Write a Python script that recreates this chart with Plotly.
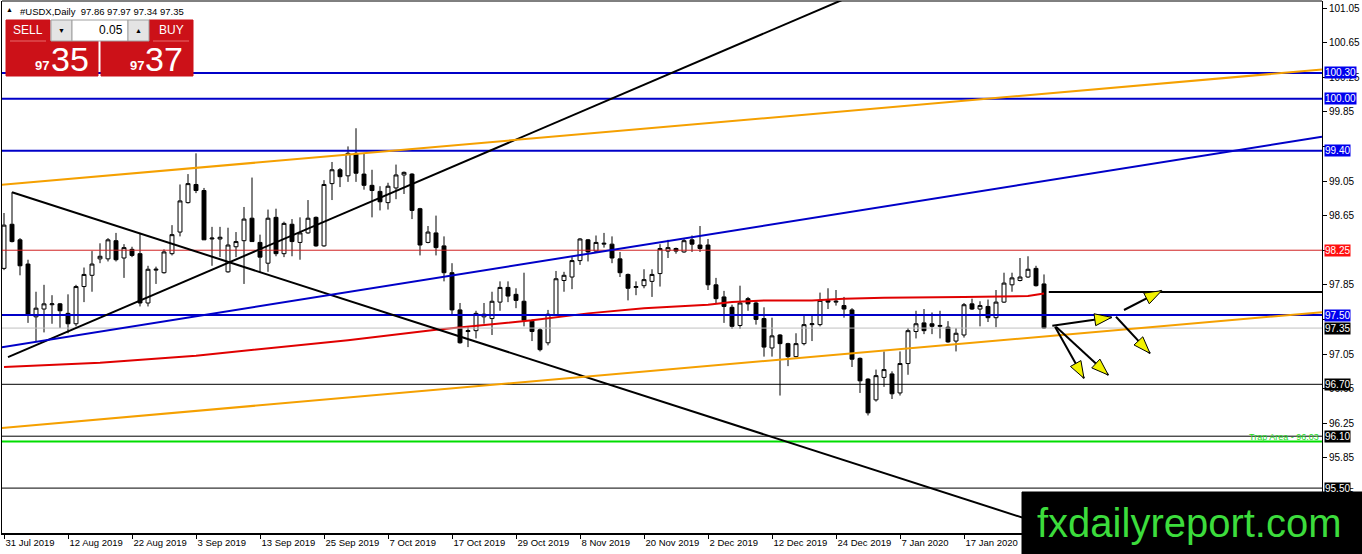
import plotly.graph_objects as go

# #USDX daily bars, 31 Jul 2019 .. 31 Jan 2020 (x axis = bar number)
opens = [98.04, 98.55, 98.37, 98.09, 97.48, 97.57, 97.62, 97.63, 97.52, 97.40,
         97.83, 97.96, 98.15, 98.15, 98.36, 98.16, 98.26, 98.21, 97.64, 98.02,
         97.99, 98.21, 98.46, 98.80, 99.01, 98.94, 98.38, 98.38, 98.00, 98.29,
         98.36, 98.62, 98.34, 98.10, 98.63, 98.21, 98.55, 98.34, 98.45, 98.63,
         98.30, 99.02, 99.18, 99.11, 99.37, 99.13, 99.00, 98.93, 98.80, 98.97,
         99.12, 99.13, 98.73, 98.34, 98.45, 98.30, 97.99, 97.56, 97.31, 97.32,
         97.48, 97.46, 97.65, 97.82, 97.74, 97.66, 97.43, 97.33, 97.18, 97.50,
         97.90, 97.94, 98.13, 98.37, 98.24, 98.32, 98.32, 98.15, 97.97, 97.82,
         97.84, 97.89, 97.98, 98.24, 98.27, 98.23, 98.37, 98.31, 98.31, 97.85,
         97.71, 97.59, 97.38, 97.69, 97.64, 97.46, 97.12, 97.27, 97.17, 97.02,
         97.17, 97.39, 97.39, 97.67, 97.65, 97.61, 97.56, 97.00, 96.76, 96.52,
         96.78, 96.82, 96.60, 96.94, 97.31, 97.41, 97.40, 97.37, 97.36, 97.20,
         97.27, 97.63, 97.57, 97.60, 97.47, 97.65, 97.85, 97.90, 97.94, 98.04,
         97.86]
highs = [98.68, 98.92, 98.39, 98.14, 97.77, 97.85, 97.73, 97.64, 97.74, 97.85,
         98.05, 98.24, 98.33, 98.39, 98.45, 98.32, 98.29, 98.45, 98.07, 98.06,
         98.26, 98.54, 99.01, 99.13, 99.37, 98.97, 98.52, 98.52, 98.51, 98.46,
         98.75, 99.09, 98.43, 98.72, 98.73, 98.58, 98.61, 98.63, 98.83, 98.64,
         99.06, 99.27, 99.20, 99.45, 99.66, 99.37, 99.18, 98.99, 99.03, 99.24,
         99.16, 99.14, 98.74, 98.53, 98.65, 98.41, 98.10, 97.64, 97.37, 97.55,
         97.64, 97.77, 97.89, 97.89, 97.81, 97.99, 97.45, 97.35, 97.56, 98.01,
         98.00, 98.17, 98.39, 98.38, 98.42, 98.45, 98.41, 98.23, 97.98, 97.89,
         98.03, 98.03, 98.32, 98.37, 98.28, 98.39, 98.42, 98.53, 98.38, 97.93,
         97.78, 97.62, 97.84, 97.71, 97.66, 97.59, 97.47, 97.28, 97.18, 97.29,
         97.49, 97.49, 97.76, 97.81, 97.79, 97.71, 97.58, 97.01, 96.77, 96.87,
         97.08, 96.85, 97.08, 97.35, 97.55, 97.57, 97.53, 97.55, 97.43, 97.35,
         97.64, 97.69, 97.66, 97.68, 97.79, 97.99, 97.99, 98.16, 98.18, 98.07,
         97.97]
lows = [98.02, 98.34, 97.96, 97.41, 97.19, 97.30, 97.40, 97.35, 97.29, 97.37,
        97.65, 97.77, 98.10, 98.12, 98.12, 97.93, 98.17, 97.60, 97.60, 97.86,
        97.98, 98.19, 98.41, 98.79, 98.91, 98.37, 98.07, 98.17, 97.99, 98.17,
        97.86, 98.35, 97.99, 98.00, 98.18, 98.17, 98.18, 98.14, 98.44, 98.29,
        98.29, 98.83, 98.98, 99.04, 99.04, 98.95, 98.63, 98.71, 98.72, 98.84,
        98.90, 98.61, 98.19, 98.33, 98.19, 97.89, 97.50, 97.17, 97.13, 97.23,
        97.40, 97.27, 97.55, 97.65, 97.58, 97.37, 97.20, 97.08, 97.15, 97.49,
        97.77, 97.80, 98.08, 98.12, 98.23, 98.28, 98.10, 97.94, 97.67, 97.73,
        97.81, 97.71, 97.83, 98.16, 98.21, 98.22, 98.23, 98.23, 97.79, 97.64,
        97.41, 97.34, 97.34, 97.55, 97.39, 97.02, 97.02, 96.57, 96.91, 97.01,
        97.15, 97.20, 97.37, 97.57, 97.61, 97.47, 96.90, 96.60, 96.34, 96.50,
        96.67, 96.53, 96.57, 96.81, 97.23, 97.28, 97.28, 97.23, 97.18, 97.08,
        97.24, 97.56, 97.37, 97.42, 97.36, 97.64, 97.77, 97.89, 97.93, 97.83,
        97.34]
closes = [98.54, 98.35, 98.07, 97.50, 97.58, 97.63, 97.63, 97.55, 97.40, 97.83,
          97.97, 98.09, 98.18, 98.37, 98.14, 98.28, 98.19, 97.64, 98.03, 98.03,
          98.23, 98.43, 98.82, 99.02, 98.94, 98.37, 98.39, 98.40, 98.31, 98.35,
          98.61, 98.35, 98.17, 98.62, 98.21, 98.56, 98.35, 98.45, 98.62, 98.30,
          99.01, 99.18, 99.10, 99.37, 99.14, 99.00, 98.94, 98.81, 98.99, 99.12,
          99.15, 98.71, 98.31, 98.46, 98.28, 97.99, 97.56, 97.18, 97.32, 97.52,
          97.51, 97.66, 97.82, 97.72, 97.67, 97.44, 97.31, 97.10, 97.51, 97.92,
          97.96, 98.13, 98.38, 98.23, 98.34, 98.33, 98.16, 97.99, 97.81, 97.83,
          97.91, 97.97, 98.27, 98.28, 98.24, 98.36, 98.32, 98.27, 97.85, 97.69,
          97.60, 97.37, 97.64, 97.63, 97.45, 97.13, 97.26, 97.17, 97.02, 97.17,
          97.39, 97.40, 97.67, 97.65, 97.66, 97.57, 96.99, 96.74, 96.37, 96.80,
          96.87, 96.59, 96.94, 97.32, 97.40, 97.32, 97.37, 97.38, 97.19, 97.29,
          97.62, 97.57, 97.61, 97.47, 97.65, 97.87, 97.93, 97.94, 98.03, 97.84,
          97.35]
bars = list(range(len(opens)))

# moving average
ma_bars = [0, 12, 24, 37, 43, 54, 66, 73, 80, 88, 91, 95, 101, 105, 110, 120, 128, 130]
ma_values = [96.90, 96.95, 97.03, 97.15, 97.21, 97.33, 97.44, 97.52, 97.58, 97.62,
             97.65, 97.67, 97.67, 97.69, 97.70, 97.71, 97.72, 97.75]

tick_bars = [0, 8, 16, 24, 32, 40, 48, 56, 64, 72, 80, 88, 96, 104, 112, 120]
tick_labels = ["31 Jul 2019", "12 Aug 2019", "22 Aug 2019", "3 Sep 2019", "13 Sep 2019",
               "25 Sep 2019", "7 Oct 2019", "17 Oct 2019", "29 Oct 2019", "8 Nov 2019",
               "20 Nov 2019", "2 Dec 2019", "12 Dec 2019", "24 Dec 2019", "7 Jan 2020",
               "17 Jan 2020"]
price_ticks = [101.05, 100.65, 100.25, 99.85, 99.45, 99.05, 98.65, 98.25, 97.85,
               97.45, 97.05, 96.65, 96.25, 95.85, 95.45]
# tick labels that sit fully under a price tag
hidden_ticks = [99.45, 98.25, 97.45]

# horizontal levels drawn across the chart
level_prices = [100.30, 100.00, 99.40, 98.25, 97.50, 97.35, 96.70, 96.10, 96.04, 95.50]
level_colors = ["#0000c8", "#0000c8", "#0000c8", "#d02020", "#0000c8", "#c0c0c0",
                "black", "black", "#00dd00", "black"]
level_widths = [2, 2, 2, 1, 2, 1, 1, 1, 2, 1]

# price tags on the right axis
tag_prices = [100.30, 100.00, 99.40, 98.25, 97.50, 97.35, 96.70, 96.10, 95.50]
tag_colors = ["#0000ee", "#0000ee", "#0000ee", "#ff1010", "#0000ee", "black",
              "black", "black", "black"]

# trend lines: (bar0, price0, bar1, price1)
trend_lines = [(1, 98.92, 136, 94.90),
               (0.5, 97.015, 110, 101.35),
               (-0.5, 99.004, 164.75, 100.339),
               (-0.5, 96.194, 164.75, 97.534),
               (-0.5, 97.125, 164.75, 99.562),
               (130.6, 97.767, 166, 97.767)]
trend_colors = ["black", "black", "#f5a000", "#f5a000", "#0000c8", "black"]

# yellow arrows: (bar0, price0, bar1, price1), head at the second point
arrows = [(131.04, 97.377, 138.46, 97.474),
          (131.38, 97.366, 135.0, 96.769),
          (131.5, 97.366, 138.04, 96.807),
          (139.0, 97.481, 143.25, 97.058),
          (140.0, 97.559, 144.71, 97.782)]

W, H = 1362, 554
PL, PR, PT, PB = 2, 1322, 1, 533          # plot area in page pixels
X_RANGE = [-0.25, 164.75]
Y_RANGE = [94.981, 101.131]
PX_BAR = (PR - PL) / (X_RANGE[1] - X_RANGE[0])
PX_PRICE = (PB - PT) / (Y_RANGE[1] - Y_RANGE[0])

FONT = "Liberation Sans, Arial, sans-serif"


def px(x):
    return (x - PL) / (PR - PL)


def py(y):
    return (PB - y) / (PB - PT)


def head(x0, p0, x1, p1, length=17, half=6):
    # arrow head triangle worked out in screen pixels, returned in data units
    dx = (x1 - x0) * PX_BAR
    dy = (p1 - p0) * PX_PRICE
    n = (dx * dx + dy * dy) ** 0.5
    ux, uy = dx / n, dy / n
    bx, by = -ux * length, -uy * length
    xs = [0, bx - uy * half, bx + uy * half, 0]
    ys = [0, by + ux * half, by - ux * half, 0]
    return ([x1 + v / PX_BAR for v in xs], [p1 + v / PX_PRICE for v in ys])


fig = go.Figure()

fig.add_trace(go.Candlestick(
    x=bars, open=opens, high=highs, low=lows, close=closes,
    increasing=dict(line=dict(color="black", width=1), fillcolor="white"),
    decreasing=dict(line=dict(color="black", width=1), fillcolor="black"),
    whiskerwidth=0, hoverinfo="skip"))

fig.add_trace(go.Scatter(x=ma_bars, y=ma_values, mode="lines",
                         line=dict(color="#e00000", width=2), hoverinfo="skip"))

for p, c, w in zip(level_prices, level_colors, level_widths):
    fig.add_trace(go.Scatter(x=[-1, 166], y=[p, p], mode="lines",
                             line=dict(color=c, width=w), hoverinfo="skip"))

for (x0, p0, x1, p1), c in zip(trend_lines, trend_colors):
    fig.add_trace(go.Scatter(x=[x0, x1], y=[p0, p1], mode="lines",
                             line=dict(color=c, width=2), hoverinfo="skip"))

for x0, p0, x1, p1 in arrows:
    fig.add_trace(go.Scatter(x=[x0, x1], y=[p0, p1], mode="lines",
                             line=dict(color="black", width=2), hoverinfo="skip"))
    hx, hy = head(x0, p0, x1, p1)
    fig.add_trace(go.Scatter(x=hx, y=hy, mode="lines", fill="toself",
                             fillcolor="#f2f200", line=dict(color="black", width=1),
                             hoverinfo="skip"))

# one-click trading panel, logo box and top border
RED = "#cc1118"
shapes = [dict(type="line", xref="paper", yref="paper", x0=0, x1=1, y0=1, y1=1,
               line=dict(color="black", width=1))]
panel = [(6, 20, 50, 41, RED, RED), (149, 20, 193, 41, RED, RED),
         (6, 41, 98, 76, RED, RED), (101, 41, 193, 76, RED, RED),
         (51, 20, 72, 41, "#e4e4e4", "#a0a0a0"), (72, 20, 128, 41, "white", "#a0a0a0"),
         (128, 20, 149, 41, "#e4e4e4", "#a0a0a0"),
         (1022, 492, 1362, 554, "black", "black")]
for x0, y0, x1, y1, fc, lc in panel:
    shapes.append(dict(type="rect", xref="paper", yref="paper", layer="above",
                       x0=px(x0), x1=px(x1), y0=py(y1), y1=py(y0),
                       fillcolor=fc, line=dict(color=lc, width=1)))
for x0, x1 in [(10, 46), (153, 189)]:
    shapes.append(dict(type="line", xref="paper", yref="paper", layer="above",
                       x0=px(x0), x1=px(x1), y0=py(41), y1=py(41),
                       line=dict(color="#e86a6a", width=1)))

ann = []


def text(s, x, y, size, color="white", anchor="center"):
    ann.append(dict(text=s, x=px(x), y=py(y), xref="paper", yref="paper",
                    xanchor=anchor, yanchor="middle", showarrow=False,
                    font=dict(family=FONT, size=size, color=color)))


text("▲", 9.5, 10, 7, "black")
text("#USDX,Daily  97.86 97.97 97.34 97.35", 18, 11, 9.5, "black", anchor="left")
text("SELL", 28, 30.5, 12)
text("BUY", 171, 30.5, 12)
text("▼", 61.5, 31, 7, "black")
text("▲", 138.5, 30, 7, "black")
text("0.05", 125, 30.5, 12, "black", anchor="right")
text("<b>97</b>", 41.5, 66, 13)
text("35", 70, 58.5, 34)
text("<b>97</b>", 136.5, 66, 13)
text("37", 164, 58.5, 34)
text("Trap Area - 96.03", 1321, 437, 9, "#22dd22", anchor="right")
text("fxdailyreport.com", 1189, 523, 40, "#3cdc3c")

for p, c in zip(tag_prices, tag_colors):
    ann.append(dict(text=f"{p:.2f}", x=1, y=p, xref="paper", yref="y",
                    xanchor="left", yanchor="middle", xshift=2, showarrow=False,
                    bgcolor=c, borderpad=0, height=11,
                    font=dict(family=FONT, size=10, color="white")))

fig.update_layout(
    width=W, height=H, autosize=False,
    margin=dict(l=PL, r=W - PR, t=PT, b=H - PB),
    paper_bgcolor="white", plot_bgcolor="white",
    showlegend=False, shapes=shapes, annotations=ann,
    xaxis=dict(range=X_RANGE, tickvals=tick_bars, ticktext=tick_labels,
               ticks="outside", ticklen=4, tickcolor="black",
               ticklabelposition="outside right", showgrid=False, zeroline=False,
               showline=True, linecolor="black", linewidth=2, automargin=False,
               rangeslider=dict(visible=False),
               tickfont=dict(family=FONT, size=9.5, color="black")),
    yaxis=dict(range=Y_RANGE, side="right", tickvals=price_ticks,
               ticktext=["" if v in hidden_ticks else f"{v:.2f}" for v in price_ticks],
               ticks="outside", ticklen=4, tickcolor="black", showgrid=False,
               zeroline=False, showline=True, mirror=True, linecolor="black",
               linewidth=1, automargin=False,
               tickfont=dict(family=FONT, size=10, color="black")),
)

# page has a default 8px body margin; drop it so the chart sits at the corner
fig.write_html("out.html", config={"displayModeBar": False},
               post_script="document.body.style.margin = '0';")
